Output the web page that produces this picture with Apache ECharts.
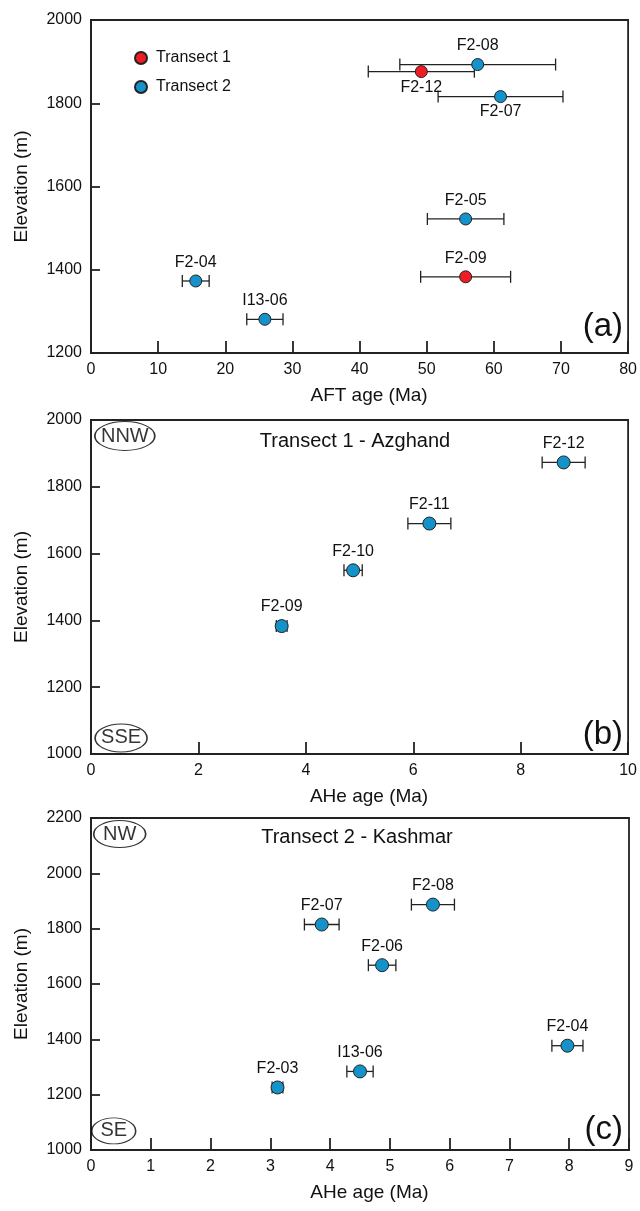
<!DOCTYPE html>
<html>
<head>
    <meta charset="utf-8">
    <title>AFT / AHe age vs elevation</title>
    <script src="https://cdn.jsdelivr.net/npm/echarts@6/dist/echarts.min.js"></script>
</head>
<body style="margin:0;background:#fff">
    <div id="main" style="width:640px;height:1211px;"></div>
    <script type="text/javascript">
        // panel (a): AFT ages
        var aftSamples  = ['F2-08', 'F2-12', 'F2-07', 'F2-05', 'F2-09', 'F2-04', 'I13-06'];
        var aftTransect = [2, 1, 2, 2, 1, 2, 2];
        var aftAge      = [57.6, 49.2, 61.0, 55.8, 55.8, 15.6, 25.9];
        var aftErr      = [11.6, 7.9, 9.3, 5.7, 6.7, 2.0, 2.7];
        var aftElev     = [1893, 1876, 1816, 1522, 1383, 1373, 1281];
        var aftBelow    = ['F2-12', 'F2-07'];

        // panel (b): AHe ages, transect 1
        var t1Samples = ['F2-09', 'F2-10', 'F2-11', 'F2-12'];
        var t1Age     = [3.55, 4.88, 6.30, 8.80];
        var t1Err     = [0.10, 0.17, 0.40, 0.40];
        var t1Elev    = [1383, 1550, 1690, 1873];

        // panel (c): AHe ages, transect 2
        var t2Samples = ['F2-03', 'I13-06', 'F2-07', 'F2-06', 'F2-08', 'F2-04'];
        var t2Age     = [3.12, 4.50, 3.86, 4.87, 5.72, 7.97];
        var t2Err     = [0.09, 0.22, 0.29, 0.23, 0.36, 0.26];
        var t2Elev    = [1226, 1284, 1815, 1668, 1887, 1377];

        var RED = '#ee1d23', BLUE = '#1592c9', INK = '#111';
        var FONT = 'Liberation Sans, Arial, sans-serif';

        function errorBar(params, api) {
            var y = api.value(2);
            var a = api.coord([api.value(0), y]);
            var b = api.coord([api.value(1), y]);
            var st = { stroke: '#222', lineWidth: 1.3 };
            var c = 6;
            return {
                type: 'group',
                children: [
                    { type: 'line', shape: { x1: a[0], y1: a[1], x2: b[0], y2: b[1] }, style: st },
                    { type: 'line', shape: { x1: a[0], y1: a[1] - c, x2: a[0], y2: a[1] + c }, style: st },
                    { type: 'line', shape: { x1: b[0], y1: b[1] - c, x2: b[0], y2: b[1] + c }, style: st }
                ]
            };
        }

        function barData(age, err, elev) {
            return age.map(function (v, i) { return [v - err[i], v + err[i], elev[i]]; });
        }

        function pointData(names, age, elev, below) {
            return age.map(function (v, i) {
                var d = { name: names[i], value: [v, elev[i]] };
                if (below && below.indexOf(names[i]) >= 0) d.label = { position: 'bottom', distance: 1 };
                return d;
            });
        }

        function plain(v) { return String(v); }

        function xAxis(idx, max, interval, name) {
            return {
                gridIndex: idx, type: 'value', min: 0, max: max, interval: interval,
                name: name, nameLocation: 'middle', nameGap: 33,
                nameTextStyle: { fontSize: 19, color: INK, fontFamily: FONT, padding: [0, 0, 0, 19] },
                axisLine: { show: true, lineStyle: { color: '#222', width: 1.8 } },
                axisTick: { inside: true, length: 12, lineStyle: { color: '#222', width: 1.8 } },
                axisLabel: { fontSize: 16, color: INK, fontFamily: FONT, margin: 9, formatter: plain },
                splitLine: { show: false }
            };
        }

        function yAxis(idx, min, max) {
            return {
                gridIndex: idx, type: 'value', min: min, max: max, interval: 200,
                name: 'Elevation (m)', nameLocation: 'middle', nameGap: 60,
                nameTextStyle: { fontSize: 19, color: INK, fontFamily: FONT },
                axisLine: { show: true, lineStyle: { color: '#222', width: 1.8 } },
                axisTick: { inside: true, length: 9, lineStyle: { color: '#222', width: 1.8 } },
                axisLabel: { fontSize: 16, color: INK, fontFamily: FONT, margin: 9, formatter: plain },
                splitLine: { show: false }
            };
        }

        function points(name, xi, data, color, size) {
            return {
                type: 'scatter', name: name, xAxisIndex: xi, yAxisIndex: xi, data: data,
                symbol: 'circle', symbolSize: size, z: 5,
                itemStyle: { color: color, borderColor: '#222', borderWidth: 1, opacity: 1 },
                label: { show: true, position: 'top', distance: 4, formatter: '{b}',
                         fontSize: 16, color: INK, fontFamily: FONT }
            };
        }

        function bars(xi, data) {
            return { type: 'custom', xAxisIndex: xi, yAxisIndex: xi, renderItem: errorBar,
                     encode: { x: [0, 1], y: 2 }, data: data, z: 3, silent: true };
        }

        function oval(xi, x, y, w, h, text) {
            return {
                type: 'scatter', xAxisIndex: xi, yAxisIndex: xi, silent: true, z: 4,
                symbol: 'circle', symbolSize: [w, h],
                itemStyle: { color: '#fff', borderColor: '#000', borderWidth: 1.2 },
                label: { show: true, position: 'inside', formatter: text, fontSize: 20,
                         color: '#000', textBorderWidth: 0, fontFamily: FONT },
                data: [[x, y]]
            };
        }

        function note(x, y, text, size, align) {
            return { type: 'text', x: x, y: y, z: 10,
                     style: { text: text, fontSize: size, fill: INK, fontFamily: FONT,
                              align: align, verticalAlign: 'middle' } };
        }

        var t1Idx = [], t2Idx = [];
        aftTransect.forEach(function (t, i) { (t === 1 ? t1Idx : t2Idx).push(i); });
        function pick(arr, idx) { return idx.map(function (i) { return arr[i]; }); }

        var aftBars = barData(aftAge, aftErr, aftElev);
        var aftPts = pointData(aftSamples, aftAge, aftElev, aftBelow);

        var myChart = echarts.init(document.getElementById('main'));
        myChart.setOption({
            animation: false,
            textStyle: { fontFamily: FONT },
            grid: [
                { left: 91, width: 538, top: 20, height: 333, show: true, borderColor: '#222', borderWidth: 1.8 },
                { left: 91, width: 538, top: 420, height: 334, show: true, borderColor: '#222', borderWidth: 1.8 },
                { left: 91, width: 538, top: 818, height: 332, show: true, borderColor: '#222', borderWidth: 1.8 }
            ],
            xAxis: [
                xAxis(0, 80, 10, 'AFT age (Ma)'),
                xAxis(1, 10, 2, 'AHe age (Ma)'),
                xAxis(2, 9, 1, 'AHe age (Ma)')
            ],
            yAxis: [yAxis(0, 1200, 2000), yAxis(1, 1000, 2000), yAxis(2, 1000, 2200)],
            legend: {
                data: ['Transect 1', 'Transect 2'], orient: 'vertical', left: 129, top: 45,
                itemWidth: 12, itemHeight: 12, itemGap: 13, icon: 'circle',
                textStyle: { fontSize: 16, color: INK, fontFamily: FONT, padding: [0, 0, 0, 4] }
            },
            graphic: [
                note(623, 327, '(a)', 33, 'right'),
                note(623, 735, '(b)', 33, 'right'),
                note(623, 1130, '(c)', 33, 'right'),
                note(355, 441, 'Transect 1 - Azghand', 20, 'center'),
                note(357, 837, 'Transect 2 - Kashmar', 20, 'center')
            ],
            series: [
                bars(0, pick(aftBars, t1Idx)),
                bars(0, pick(aftBars, t2Idx)),
                points('Transect 1', 0, pick(aftPts, t1Idx), RED, 12),
                points('Transect 2', 0, pick(aftPts, t2Idx), BLUE, 12),
                bars(1, barData(t1Age, t1Err, t1Elev)),
                points('AHe T1', 1, pointData(t1Samples, t1Age, t1Elev), BLUE, 13),
                bars(2, barData(t2Age, t2Err, t2Elev)),
                points('AHe T2', 2, pointData(t2Samples, t2Age, t2Elev), BLUE, 13),
                oval(1, 0.63, 1952, 60, 29, 'NNW'),
                oval(1, 0.56, 1048, 52, 28, 'SSE'),
                oval(2, 0.48, 2142, 52, 27, 'NW'),
                oval(2, 0.38, 1069, 44, 26, 'SE')
            ]
        });
    </script>
</body>
</html>
